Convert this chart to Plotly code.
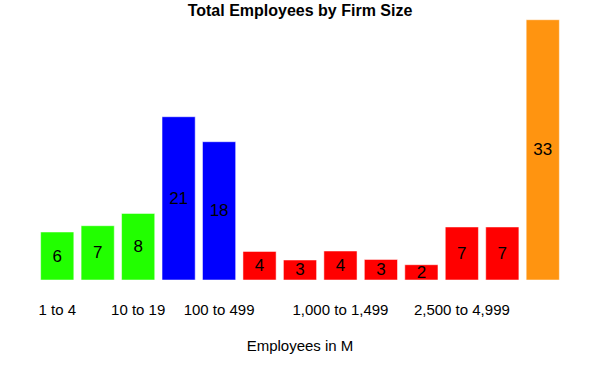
import plotly.graph_objects as go

categories = ["1 to 4", "5 to 9", "10 to 19", "20 to 99", "100 to 499", "500 to 749",
              "750 to 999", "1,000 to 1,499", "1,500 to 1,999", "2,000 to 2,499",
              "2,500 to 4,999", "5,000 to 9,999", "10,000+"]
employees = [6.09, 6.89, 8.45, 20.72, 17.55, 3.63, 2.54, 3.68, 2.61, 1.94, 6.73, 6.73, 33.03]
size_group = ["small", "small", "small", "medium", "medium", "large", "large", "large",
              "large", "large", "large", "large", "enterprise"]
tick_categories = ["1 to 4", "10 to 19", "100 to 499", "1,000 to 1,499", "2,500 to 4,999"]

group_colors = {"small": "#22ff00", "medium": "#0000ff", "large": "#ff0000", "enterprise": "#ff9410"}

FONT = "Arial, Liberation Sans, sans-serif"

fig = go.Figure(go.Bar(
    x=categories,
    y=employees,
    marker=dict(color=[group_colors[g] for g in size_group],
                line=dict(color="rgba(255,255,255,0.5)", width=1)),
    texttemplate="%{y:.0f}",
    textposition="inside",
    insidetextanchor="middle",
    constraintext="none",
    textangle=0,
    insidetextfont=dict(color="black", size=17, family=FONT),
    hoverinfo="x+y",
))

fig.update_layout(
    width=600, height=375,
    paper_bgcolor="white", plot_bgcolor="white",
    margin=dict(l=37, r=37, t=5, b=95, autoexpand=False),
    bargap=0.18,
    showlegend=False,
    font=dict(family=FONT, color="black"),
    title=dict(text="<b>Total Employees by Firm Size</b>", x=0.5, xanchor="center",
               y=1 - 10.5 / 375, yanchor="middle", yref="container",
               font=dict(size=16, family=FONT, color="black")),
    xaxis=dict(
        automargin=False,
        tickmode="array", tickvals=tick_categories, ticktext=tick_categories,
        tickangle=0, ticks="outside", ticklen=16, tickcolor="rgba(0,0,0,0)",
        tickfont=dict(size=15, family=FONT, color="black"),
        showgrid=False, showline=False, zeroline=False,
        title=dict(text="Employees in M", standoff=23, font=dict(size=15, family=FONT, color="black")),
        range=[-0.5, 12.5],
    ),
    yaxis=dict(visible=False, automargin=False, range=[0, 34.9]),
)

fig.write_html("out.html", config={"displayModeBar": False},
               post_script="document.body.style.margin='0';")
